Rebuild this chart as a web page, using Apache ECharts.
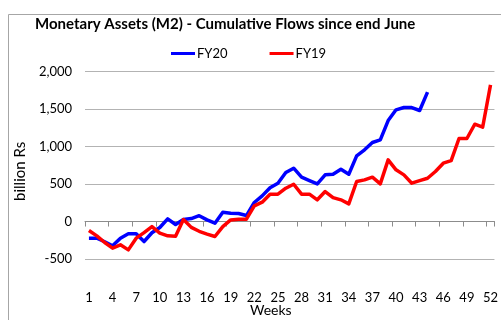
<!DOCTYPE html>
<html>
<head>
<meta charset="utf-8">
<script src="https://cdn.jsdelivr.net/npm/echarts@6/dist/echarts.min.js"></script>
<style>
  html, body { margin: 0; padding: 0; background: #fff; }
  #chart { width: 501px; height: 320px; }
</style>
</head>
<body>
<div id="chart"></div>
<script>
// Weeks 1..52 since end June
const weeks = Array.from({ length: 52 }, (_, i) => String(i + 1));

// Cumulative flows, billion Rs
const fy20 = [
  -222, -222, -270, -324, -222, -164, -164, -267, -150, -80,
  36, -40, 27, 40, 78, 22, -22, 125, 111, 107,
  80, 254, 343, 452, 512, 654, 712, 592, 547, 503,
  623, 632, 699, 632, 877, 957, 1055, 1090, 1348, 1491,
  1522, 1522, 1482, 1727
];
const fy19 = [
  -120, -191, -280, -355, -311, -378, -222, -147, -67, -155,
  -191, -195, 27, -78, -130, -167, -200, -67, 22, 31,
  31, 209, 258, 365, 365, 445, 498, 365, 365, 290,
  400, 320, 290, 236, 534, 556, 592, 503, 823, 690,
  623, 512, 547, 578, 668, 779, 814, 1108, 1108, 1299,
  1259, 1824
];

// Value axis ticks
const yMin = -500, yMax = 2000, yStep = 500;

const font = 'Lato, "Open Sans", sans-serif';
const chart = echarts.init(document.getElementById('chart'), null, { renderer: 'canvas' });

chart.setOption({
  animation: false,
  backgroundColor: '#fff',
  textStyle: { fontFamily: font },
  title: {
    text: 'Monetary Assets (M2) - Cumulative Flows since end June',
    left: 35, top: 17, padding: 0,
    textStyle: { fontFamily: font, fontSize: 15, fontWeight: 'bold', color: '#000' }
  },
  legend: {
    left: 171, top: 47, padding: 0,
    itemWidth: 24, itemHeight: 3, itemGap: 42,
    icon: 'rect',
    textStyle: { fontFamily: font, fontSize: 13, color: '#000', padding: [0, 0, 0, -3] },
    data: ['FY20', 'FY19']
  },
  graphic: [
    {
      type: 'rect', z: -1, silent: true,
      shape: { x: 8.5, y: 14.5, width: 600, height: 400 },
      style: { fill: 'none', stroke: '#a6a6a6', lineWidth: 1 }
    },
    {
      type: 'text', left: 250, top: 303,
      style: { text: 'Weeks', font: '14px ' + font, fill: '#000' }
    }
  ],
  grid: { left: 85, right: 0, top: 71.7, bottom: 61, containLabel: false },
  xAxis: [
    {
      type: 'category', data: weeks, boundaryGap: true,
      axisLine: { onZero: true, lineStyle: { color: '#8c8c8c', width: 1 } },
      axisTick: { show: true, interval: 2, length: 5, lineStyle: { color: '#8c8c8c' } },
      axisLabel: { show: false }
    },
    {
      type: 'category', data: weeks, boundaryGap: true, position: 'bottom',
      axisLine: { show: false, onZero: false },
      axisTick: { show: false },
      axisLabel: { interval: 2, margin: 32, fontSize: 13, color: '#000', fontFamily: font }
    }
  ],
  yAxis: {
    type: 'value', min: yMin, max: yMax, interval: yStep,
    name: 'billion Rs', nameLocation: 'middle', nameGap: 55, nameRotate: 90,
    nameTextStyle: { fontFamily: font, fontSize: 15, color: '#000', padding: [0, 0, 0, -12] },
    axisLine: { show: false }, axisTick: { show: false },
    axisLabel: {
      margin: 13, fontSize: 13, color: '#000', fontFamily: font,
      formatter: v => v.toLocaleString('en-US')
    },
    splitLine: { lineStyle: { color: '#b3b3b3', width: 1 } }
  },
  series: [
    {
      name: 'FY20', type: 'line', data: fy20, xAxisIndex: 0,
      symbol: 'none', lineStyle: { color: '#0000ff', width: 3.5, join: 'round' },
      itemStyle: { color: '#0000ff' }
    },
    {
      name: 'FY19', type: 'line', data: fy19, xAxisIndex: 0,
      symbol: 'none', lineStyle: { color: '#ff0000', width: 3.5, join: 'round' },
      itemStyle: { color: '#ff0000' }
    }
  ]
});
</script>
</body>
</html>
